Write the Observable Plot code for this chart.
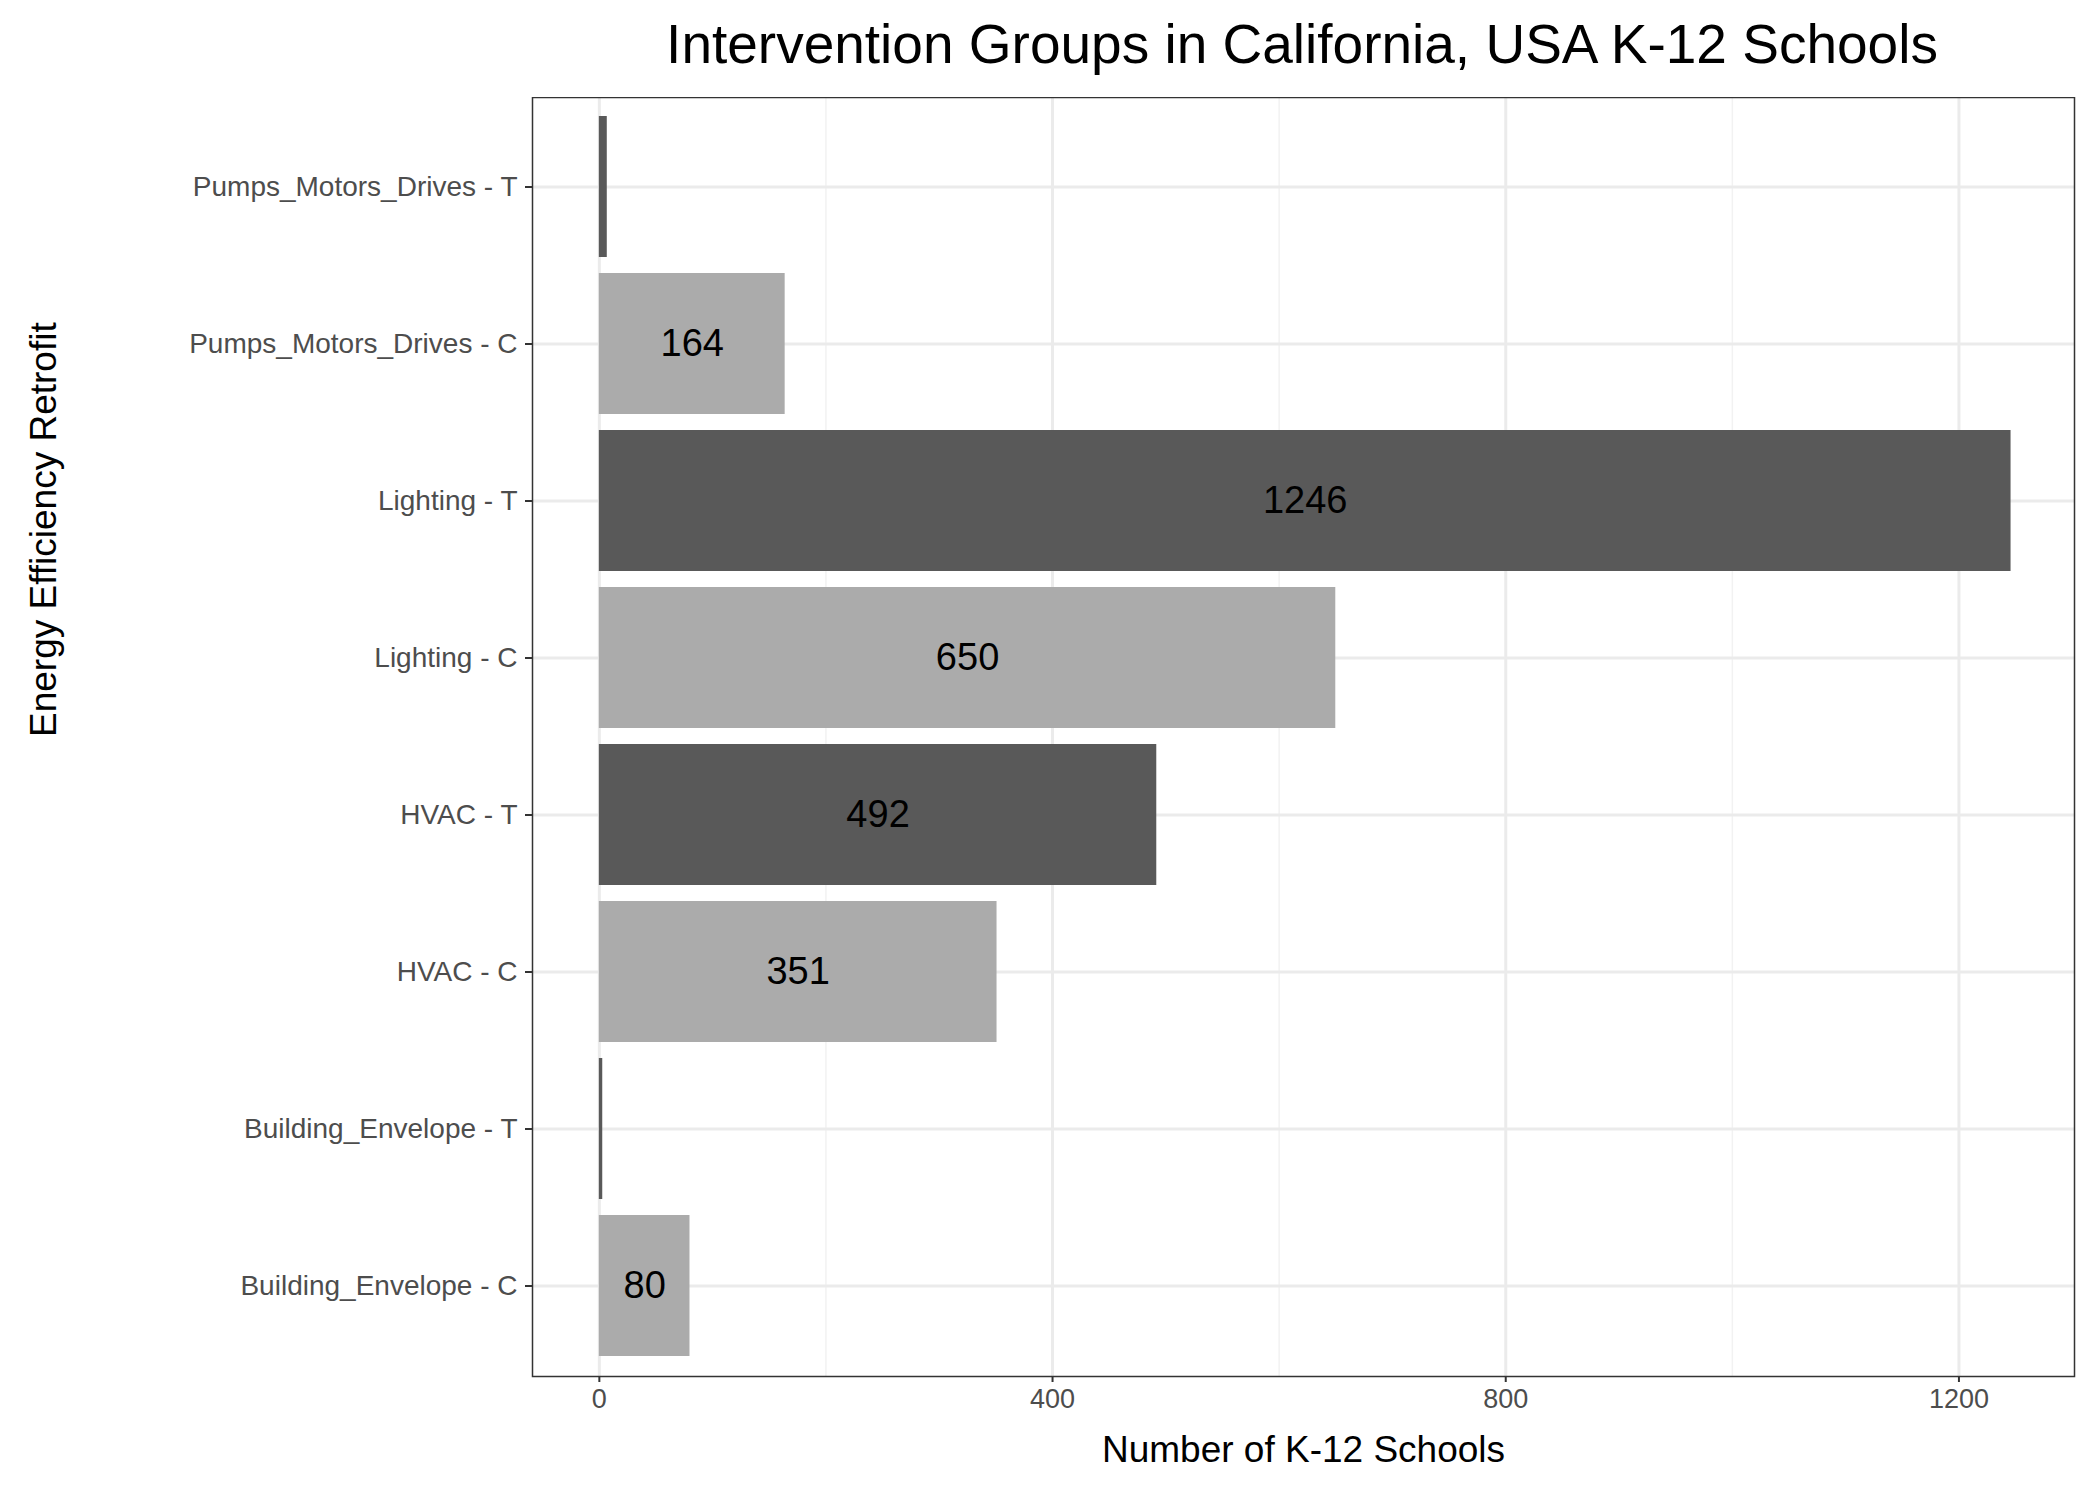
<!DOCTYPE html>
<html><head><meta charset="utf-8">
<script src="https://cdn.jsdelivr.net/npm/d3@7"></script>
<script src="https://cdn.jsdelivr.net/npm/@observablehq/plot@0.6"></script>
<style>
body{margin:0;background:#fff;font-family:Arial,"Liberation Sans",sans-serif;}
#title{height:97px;width:2100px;position:relative;}
#title span{position:absolute;left:1302px;top:12px;transform:translateX(-50%);font-size:55px;color:#000;white-space:nowrap;}
</style></head><body>
<div id="title"><span>Intervention Groups in California, USA K-12 Schools</span></div>
<div id="chart"></div>
<script>
// categories top to bottom as drawn
const groups = ["Pumps_Motors_Drives - T","Pumps_Motors_Drives - C","Lighting - T","Lighting - C","HVAC - T","HVAC - C","Building_Envelope - T","Building_Envelope - C"];
const counts = [7, 164, 1246, 650, 492, 351, 3, 80];
const kinds = ["T","C","T","C","T","C","T","C"];
const xTicks = [0, 400, 800, 1200];
const xMinor = [200, 600, 1000];

const rows = groups.map((g, i) => ({group: g, n: counts[i], kind: kinds[i]}));
const labelled = rows.filter(d => d.n >= 10);

const plot = Plot.plot({
  width: 2100,
  height: 1403,
  marginLeft: 532,
  marginRight: 26,
  marginTop: 0,
  marginBottom: 124,
  style: {fontFamily: "Arial, 'Liberation Sans', sans-serif", background: "#fff"},
  x: {domain: [-59, 1302]},
  y: {domain: groups, padding: 0.1},
  color: {domain: ["T","C"], range: ["#595959","#ababab"]},
  marks: [
    Plot.ruleX(xMinor, {stroke: "#f2f2f2", strokeWidth: 1.5}),
    Plot.ruleX(xTicks, {stroke: "#ebebeb", strokeWidth: 3}),
    Plot.ruleY(groups, {y: d => d, stroke: "#ebebeb", strokeWidth: 3}),
    Plot.barX(rows, {y: "group", x: "n", fill: "kind"}),
    Plot.text(labelled, {y: "group", x: d => d.n / 2, text: d => String(d.n), fontSize: 38, fill: "#000"}),
    Plot.frame({stroke: "#333", strokeWidth: 1.5}),
    Plot.axisX(xTicks, {tickSize: 6, tickPadding: 6, fontSize: 27, fill: "#4d4d4d", stroke: "#333", strokeWidth: 2,
      tickFormat: d => String(d), label: null}),
    Plot.axisY({tickSize: 7, tickPadding: 8, fontSize: 28, fill: "#4d4d4d", stroke: "#333", strokeWidth: 2, label: null}),
    Plot.text(["Number of K-12 Schools"], {frameAnchor: "bottom", dy: 85, fontSize: 37, fill: "#000"}),
    Plot.text(["Energy Efficiency Retrofit"], {frameAnchor: "left", dx: -488, rotate: -90, fontSize: 37, fill: "#000"})
  ]
});
document.getElementById("chart").appendChild(plot);
</script>
</body></html>
